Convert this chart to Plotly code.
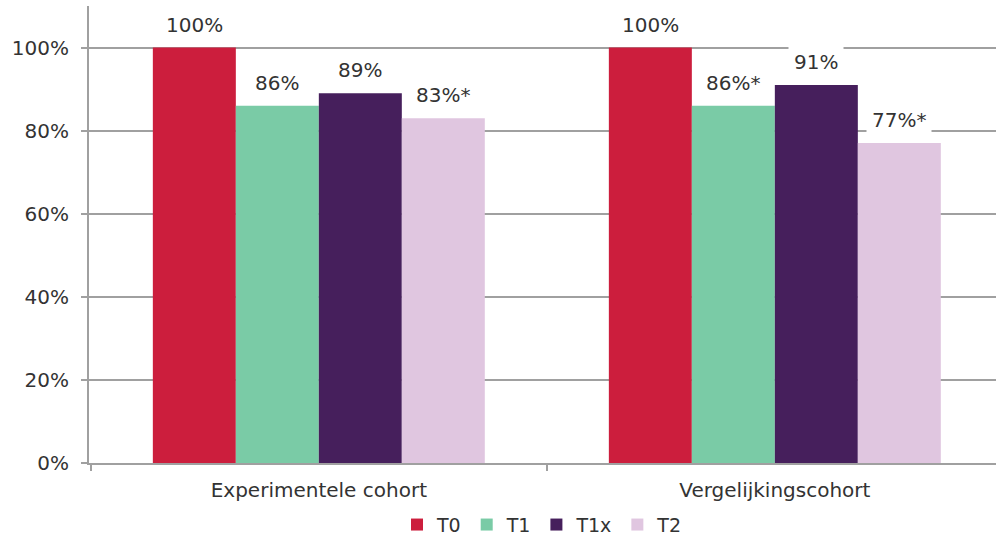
import plotly.graph_objects as go

categories = ["Experimentele cohort", "Vergelijkingscohort"]
series_names = ["T0", "T1", "T1x", "T2"]
values = {
    "T0": [1.00, 1.00],
    "T1": [0.86, 0.86],
    "T1x": [0.89, 0.91],
    "T2": [0.83, 0.77],
}
labels = {
    "T0": ["100%", "100%"],
    "T1": ["86%", "86%*"],
    "T1x": ["89%", "91%"],
    "T2": ["83%*", "77%*"],
}
colors = {
    "T0": "#CC1E3D",
    "T1": "#7ACBA6",
    "T1x": "#461F5C",
    "T2": "#E0C6E0",
}
y_ticks = [0, 0.2, 0.4, 0.6, 0.8, 1.0]
y_ticktext = ["0%", "20%", "40%", "60%", "80%", "100%"]

FONT = "DejaVu Sans"
TXT = "#333333"
FS = 20
bargap = 0.272
n = len(series_names)
bw = (1 - bargap) / n

fig = go.Figure()
annotations = []
for j, s in enumerate(series_names):
    fig.add_trace(go.Bar(
        name=s, x=categories, y=values[s],
        marker=dict(color=colors[s], line=dict(width=0)),
    ))
    for i, c in enumerate(categories):
        xpos = i + (j - (n - 1) / 2) * bw
        annotations.append(dict(
            x=xpos, y=values[s][i], xref="x", yref="y",
            text=labels[s][i], showarrow=False,
            yanchor="bottom", xanchor="center", yshift=5,
            bgcolor="white", borderpad=5,
            font=dict(family=FONT, size=FS, color=TXT),
        ))

fig.update_layout(
    width=996, height=538,
    margin=dict(l=89, r=0, t=6, b=75, autoexpand=False),
    paper_bgcolor="white", plot_bgcolor="white",
    barmode="group", bargap=bargap, bargroupgap=0,
    font=dict(family=FONT, size=FS, color=TXT),
    showlegend=True,
    legend=dict(orientation="h", x=0.5, xanchor="center", y=-0.135, yanchor="middle",
                font=dict(family=FONT, size=19, color=TXT),
                itemwidth=30, traceorder="normal", tracegroupgap=0),
    annotations=annotations,
)
fig.update_xaxes(
    type="category", range=[-0.504, 1.485], automargin=False,
    showline=True, linecolor="#A0A0A0", linewidth=2,
    ticks="outside", tickson="boundaries", ticklen=6, tickcolor="#A0A0A0", tickwidth=2,
    showgrid=False, ticklabelstandoff=8,
    tickfont=dict(family=FONT, size=FS, color=TXT),
)
fig.update_yaxes(
    range=[0, 1.1], tickvals=y_ticks, ticktext=y_ticktext, automargin=False,
    showline=True, linecolor="#A0A0A0", linewidth=2,
    ticks="outside", ticklen=6, tickcolor="#A0A0A0", tickwidth=2,
    showgrid=True, gridcolor="#A0A0A0", gridwidth=2,
    zeroline=False, ticklabelstandoff=8,
    tickfont=dict(family=FONT, size=FS, color=TXT),
)

fig.write_html("out.html", config={"displayModeBar": False},
               post_script="document.body.style.margin='0';document.body.style.overflow='hidden';")
